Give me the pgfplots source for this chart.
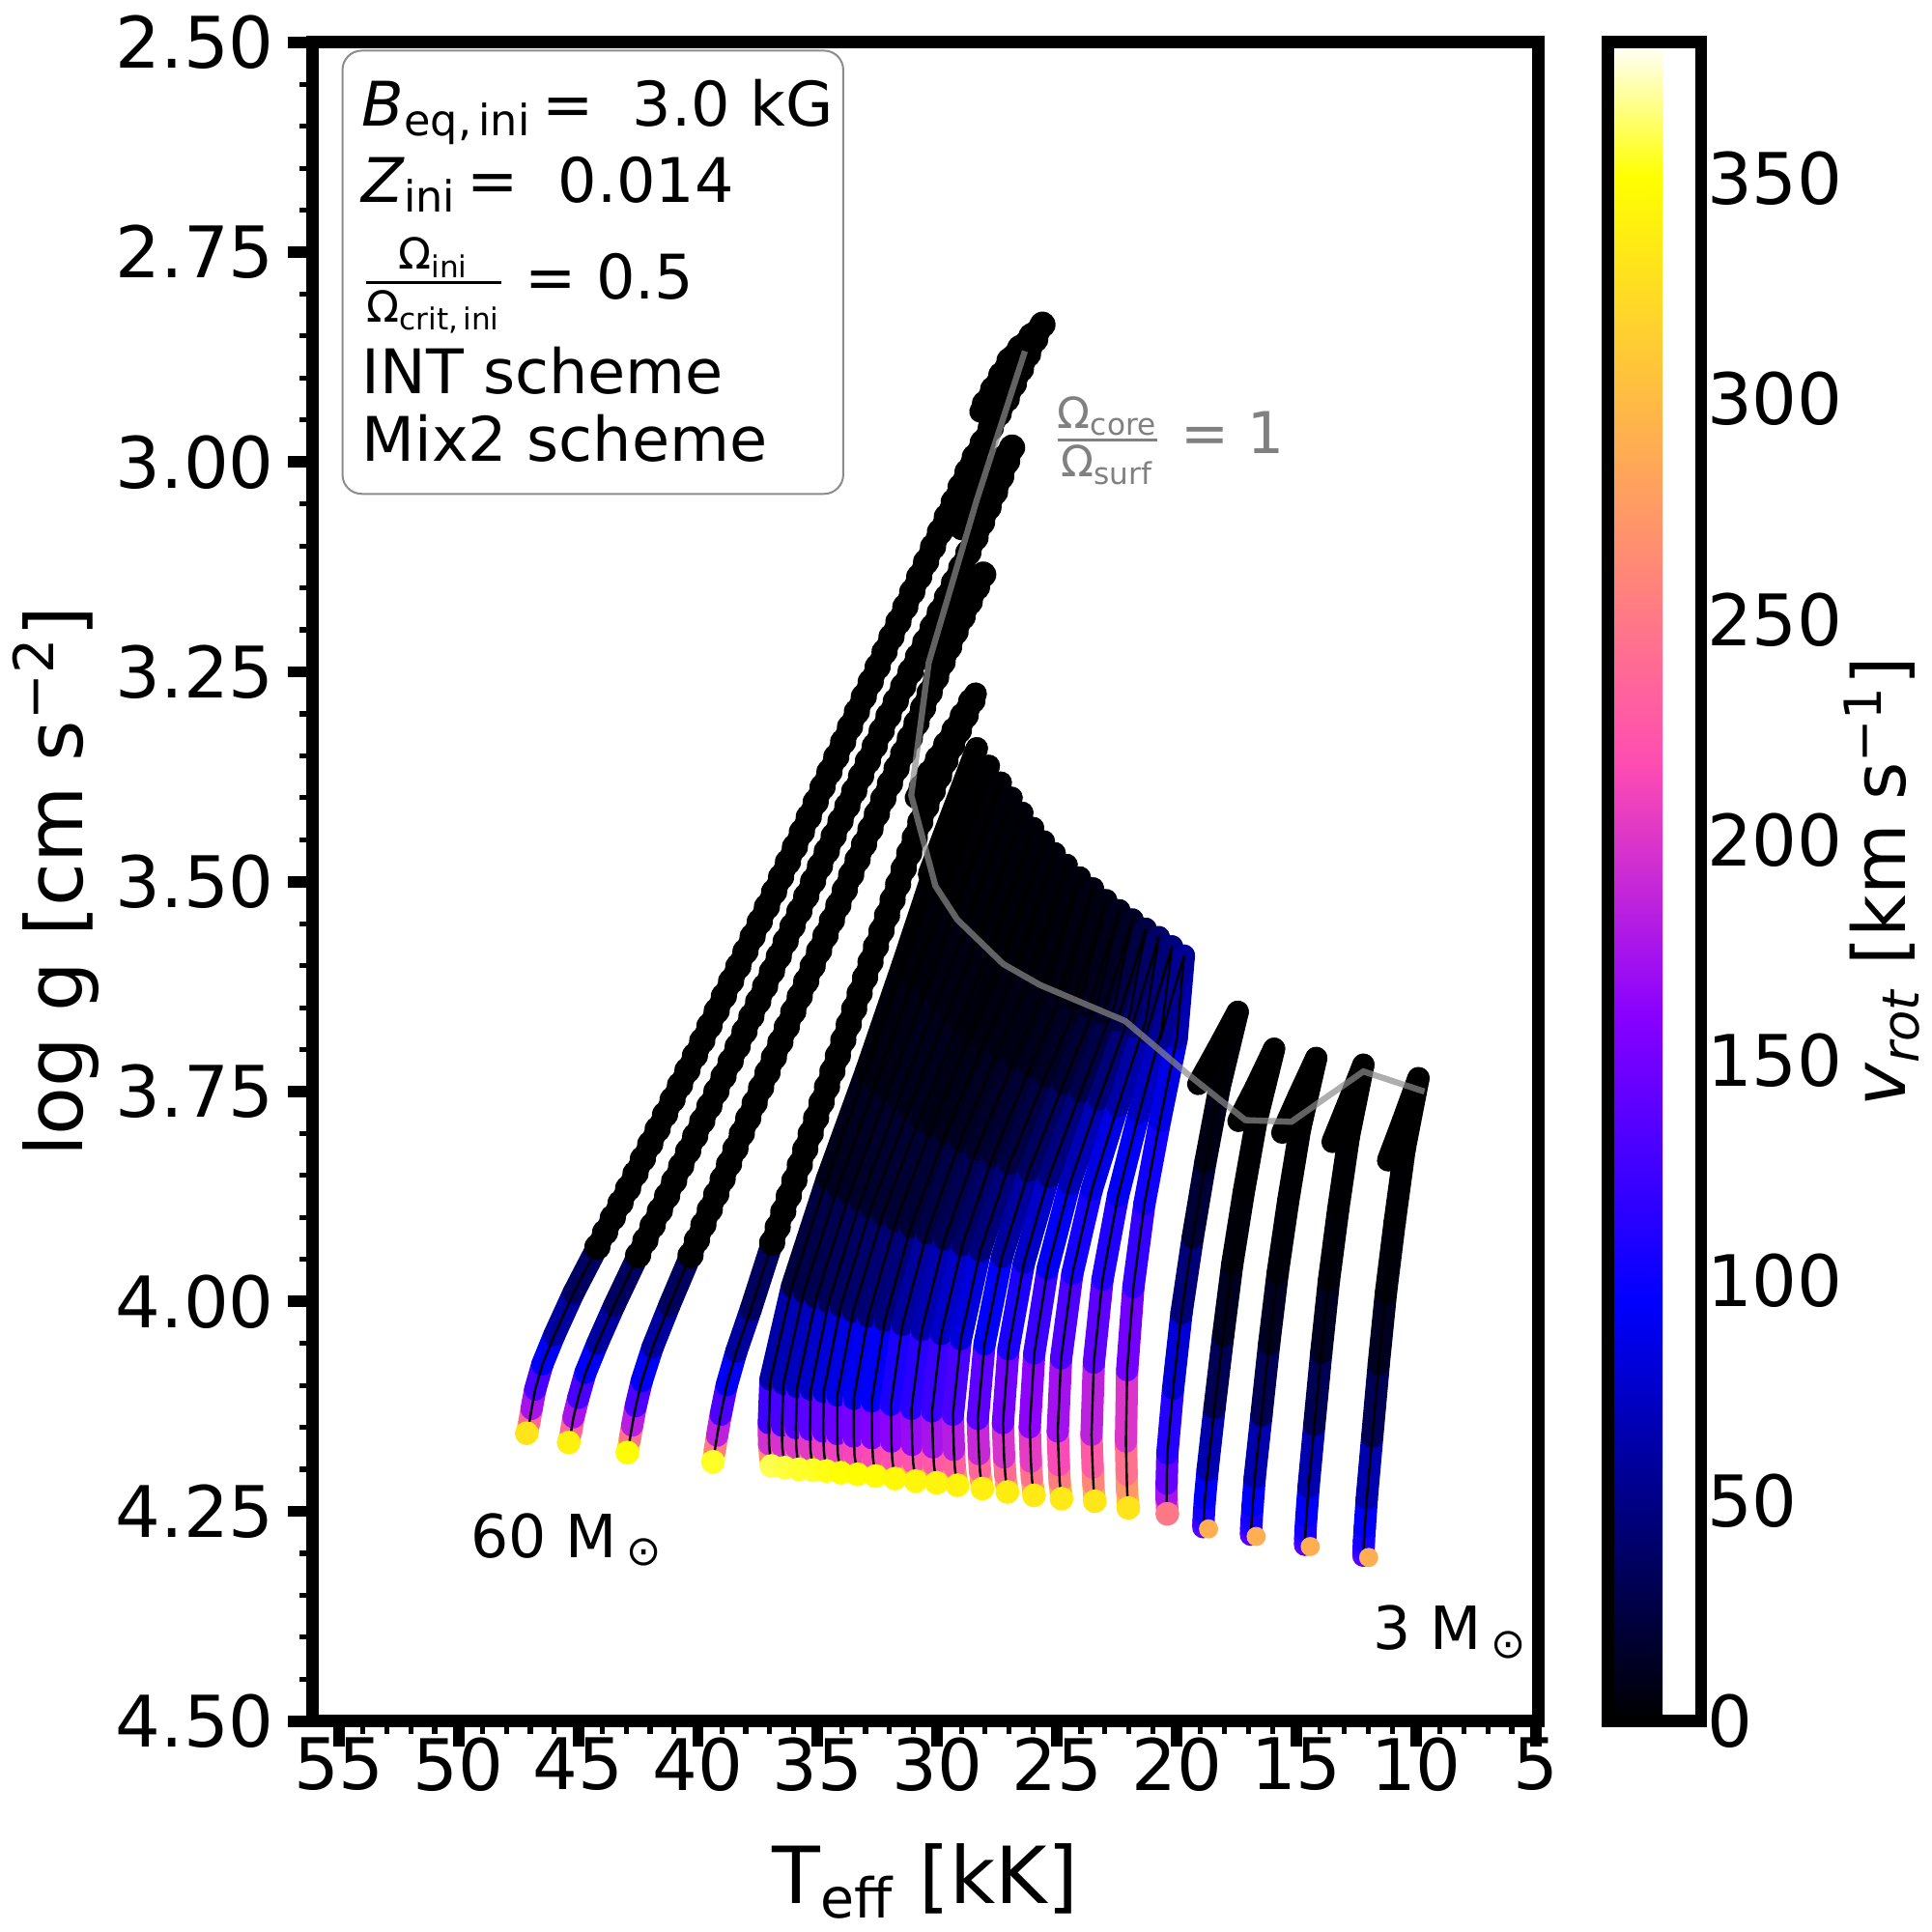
\documentclass[border=0pt]{standalone}
\usepackage{amsmath}
\usepackage{fontspec}
\setmainfont{DejaVu Sans}
\usepackage{pgfplots}
\usepackage{pgfplotstable}
\pgfplotsset{compat=1.18}
\definecolor{omg}{rgb}{0.55,0.55,0.55}
\pgfplotsset{colormap={gnuplottwo}{[1pt] rgb(0pt)=(0,0,0); rgb(25pt)=(0,0,1); rgb(42pt)=(0.53125,0,1); rgb(57pt)=(1,0.3,0.7); rgb(92pt)=(1,1,0); rgb(100pt)=(1,1,1)}}

\pgfplotstableread{
T g v
47.15 4.157 330
47.05 4.145 270
46.95 4.128 200
46.80 4.105 150
46.50 4.075 110
46.00 4.040 75
45.20 3.990 45
44.20 3.935 28
43.00 3.870 16
41.60 3.790 9
40.00 3.700 5
38.30 3.600 2
36.70 3.505 1
35.00 3.400 0
33.40 3.300 0
31.70 3.195 0
30.00 3.090 0
28.55 3.000 0
27.10 2.925 0
26.15 2.868 0
25.60 2.836 0
26.90 2.875 0
28.20 2.940 0
}\trkLX
\pgfplotstableread{
T g v
45.40 4.168 340
45.30 4.155 270
45.20 4.138 200
45.00 4.115 150
44.70 4.085 110
44.20 4.050 75
43.50 4.005 45
42.50 3.945 28
41.30 3.875 16
39.90 3.790 9
38.40 3.700 5
36.80 3.600 2
35.20 3.500 1
33.60 3.400 0
32.00 3.300 0
30.25 3.200 0
28.40 3.090 0
27.50 3.030 0
26.85 2.982 0
27.90 3.015 0
29.00 3.080 0
}\trkL
\pgfplotstableread{
T g v
42.95 4.180 350
42.85 4.165 280
42.75 4.148 210
42.60 4.125 155
42.35 4.095 110
41.90 4.055 75
41.20 4.005 45
40.31 3.945 27
39.20 3.870 15
38.02 3.790 8
36.69 3.700 4
35.20 3.600 2
33.72 3.500 0
32.24 3.400 0
30.70 3.300 0
29.20 3.200 0
28.50 3.158 0
28.05 3.133 0
28.90 3.163 0
30.30 3.235 0
}\trkXL
\pgfplotstableread{
T g v
39.37 4.191 355
39.30 4.178 290
39.20 4.160 215
39.05 4.135 155
38.80 4.100 110
38.40 4.060 75
37.80 4.010 45
36.90 3.930 27
35.90 3.850 15
34.80 3.760 8
33.70 3.670 4
32.60 3.580 2
31.60 3.500 0
30.60 3.420 0
29.50 3.345 0
28.40 3.276 0
29.70 3.340 0
30.90 3.400 0
}\trkXXX
\pgfplotstableread{
T g v
36.93 4.196 360
36.98 4.186 300
37.03 4.170 230
37.04 4.145 160
36.97 4.093 90
36.07 3.982 36
34.61 3.854 12
32.98 3.726 6
31.44 3.598 2
29.94 3.469 1
28.35 3.341 0
30.35 3.491 0
}\trkXXV
\pgfplotstableread{
T g v
36.37 4.198 358
36.42 4.188 300
36.48 4.173 232
36.49 4.148 164
36.43 4.098 95
35.58 3.989 40
34.16 3.864 15
32.54 3.738 8
30.95 3.613 4
29.40 3.487 2
27.85 3.362 1
29.79 3.509 1
}\trkXXIV
\pgfplotstableread{
T g v
35.78 4.200 356
35.83 4.190 300
35.89 4.175 234
35.91 4.151 168
35.86 4.102 100
35.06 3.996 43
33.68 3.873 17
32.07 3.750 10
30.45 3.627 6
28.85 3.505 3
27.35 3.382 2
29.23 3.526 2
}\trkXXIII
\pgfplotstableread{
T g v
35.19 4.201 355
35.24 4.191 300
35.30 4.177 236
35.32 4.153 171
35.29 4.105 105
34.54 4.001 47
33.22 3.881 20
31.63 3.760 12
29.99 3.640 8
28.35 3.520 5
26.90 3.400 3
28.72 3.541 3
}\trkXXII
\pgfplotstableread{
T g v
34.63 4.202 353
34.68 4.193 300
34.74 4.178 238
34.77 4.155 175
34.75 4.108 110
34.04 4.006 51
32.77 3.888 22
31.19 3.771 12
29.53 3.653 7
27.86 3.535 5
26.45 3.418 3
28.21 3.556 3
}\trkXXI
\pgfplotstableread{
T g v
34.04 4.204 351
34.09 4.195 300
34.16 4.181 240
34.18 4.158 179
34.18 4.112 115
33.52 4.012 55
32.29 3.897 25
30.74 3.782 13
29.06 3.666 8
27.36 3.551 5
26.00 3.436 3
27.71 3.571 3
}\trkXX
\pgfplotstableread{
T g v
33.34 4.206 349
33.39 4.197 300
33.46 4.183 242
33.49 4.161 183
33.49 4.116 120
32.89 4.018 58
31.73 3.904 28
30.22 3.791 10
28.55 3.678 6
26.84 3.565 4
25.55 3.452 3
27.20 3.584 3
}\trkXIX
\pgfplotstableread{
T g v
32.58 4.208 348
32.63 4.199 300
32.69 4.186 244
32.73 4.163 187
32.74 4.119 125
32.20 4.023 62
31.11 3.911 30
29.66 3.800 11
28.01 3.689 7
26.31 3.577 5
25.10 3.466 4
26.69 3.595 4
}\trkXVIII
\pgfplotstableread{
T g v
31.77 4.211 346
31.82 4.202 300
31.88 4.189 247
31.92 4.167 192
31.94 4.123 132
31.46 4.028 82
30.44 3.919 36
29.05 3.809 16
27.42 3.699 9
25.74 3.590 6
24.60 3.480 4
26.13 3.606 4
}\trkXVII
\pgfplotstableread{
T g v
30.90 4.214 344
30.95 4.205 300
31.01 4.192 250
31.05 4.171 196
31.08 4.128 140
30.65 4.034 90
29.70 3.926 42
28.37 3.819 20
26.77 3.711 10
25.12 3.603 6
24.05 3.495 5
25.52 3.619 5
}\trkXVI
\pgfplotstableread{
T g v
30.03 4.216 342
30.08 4.208 300
30.14 4.195 252
30.18 4.174 202
30.22 4.131 148
29.84 4.039 98
28.96 3.933 50
27.68 3.827 25
26.12 3.720 13
24.50 3.614 8
23.50 3.508 6
24.91 3.629 6
}\trkXV
\pgfplotstableread{
T g v
29.16 4.219 341
29.21 4.211 300
29.27 4.198 255
29.31 4.177 208
29.35 4.135 155
29.02 4.045 105
28.21 3.940 60
26.99 3.836 32
25.47 3.731 17
23.88 3.627 10
22.95 3.522 7
24.30 3.640 7
}\trkXIV
\pgfplotstableread{
T g v
28.12 4.223 339
28.16 4.215 300
28.22 4.202 258
28.26 4.182 215
28.31 4.140 165
28.03 4.051 115
27.30 3.947 75
26.17 3.844 45
24.74 3.741 25
23.24 3.637 14
22.40 3.534 10
23.69 3.649 10
}\trkXIII
\pgfplotstableread{
T g v
27.07 4.227 337
27.11 4.219 300
27.16 4.207 262
27.21 4.186 220
27.26 4.145 175
27.03 4.057 125
26.38 3.954 90
25.35 3.852 60
24.01 3.750 35
22.60 3.647 20
21.85 3.545 14
23.09 3.657 14
}\trkXII
\pgfplotstableread{
T g v
25.96 4.231 335
26.00 4.223 300
26.05 4.211 265
26.09 4.191 225
26.14 4.150 185
25.95 4.062 140
25.39 3.961 105
24.47 3.860 80
23.25 3.759 55
21.95 3.657 35
21.30 3.556 25
22.48 3.665 25
}\trkXI
\pgfplotstableread{
T g v
24.81 4.235 334
24.84 4.227 305
24.89 4.215 270
24.92 4.195 235
24.97 4.155 195
24.83 4.068 150
24.36 3.967 115
23.55 3.867 95
22.46 3.767 75
21.30 3.666 50
20.75 3.566 38
21.87 3.672 38
}\trkX
\pgfplotstableread{
T g v
23.42 4.238 332
23.45 4.230 305
23.48 4.218 275
23.51 4.198 245
23.56 4.159 210
23.46 4.073 160
23.10 3.974 120
22.45 3.874 100
21.57 3.775 85
20.63 3.676 60
20.20 3.577 45
21.26 3.680 45
}\trkIX
\pgfplotstableread{
T g v
22.02 4.246 330
22.04 4.238 310
22.07 4.226 285
22.09 4.206 260
22.12 4.167 230
22.07 4.082 170
21.81 3.983 130
21.35 3.884 110
20.70 3.785 95
20.00 3.687 75
19.70 3.588 55
20.70 3.688 55
}\trkVIII
\pgfplotstableread{
T g v
20.39 4.253 250
20.40 4.246 220
20.42 4.235 190
20.42 4.217 160
20.39 4.181 125
20.15 4.104 100
19.80 4.014 60
19.33 3.924 30
18.80 3.834 12
18.21 3.745 4
17.45 3.655 1
18.30 3.700 1
19.10 3.741 1
}\trkVII
\pgfplotstableread{
T g v
18.67 4.271 290
18.89 4.269 150
18.88 4.262 125
18.86 4.252 110
18.82 4.235 100
18.71 4.201 85
18.42 4.127 45
18.06 4.041 18
17.68 3.956 6
17.20 3.870 2
16.67 3.785 1
15.93 3.699 0
16.70 3.745 0
17.42 3.785 0
}\trkVI
\pgfplotstableread{
T g v
16.68 4.280 290
16.90 4.278 150
16.89 4.271 125
16.87 4.261 110
16.83 4.244 100
16.74 4.210 85
16.46 4.136 45
16.14 4.051 18
15.78 3.966 6
15.34 3.880 2
14.85 3.795 1
14.17 3.710 0
14.90 3.755 0
15.59 3.799 0
}\trkV
\pgfplotstableread{
T g v
14.42 4.292 290
14.64 4.290 150
14.63 4.283 125
14.62 4.273 110
14.58 4.256 100
14.49 4.221 85
14.25 4.147 45
13.96 4.061 18
13.64 3.975 6
13.25 3.890 2
12.81 3.804 1
12.20 3.718 0
12.85 3.765 0
13.49 3.810 0
}\trkIV
\pgfplotstableread{
T g v
11.98 4.305 290
12.20 4.303 150
12.19 4.296 125
12.18 4.286 110
12.14 4.269 100
12.06 4.235 85
11.83 4.161 45
11.56 4.075 18
11.26 3.990 6
10.89 3.905 2
10.48 3.819 1
9.90 3.734 0
10.55 3.785 0
11.17 3.832 0
}\trkIII
\pgfplotstableread{
T g
26.34 2.868
28.35 3.045
30.36 3.239
31.09 3.397
30.08 3.505
29.17 3.545
27.25 3.598
25.71 3.623
22.15 3.666
19.59 3.728
17.13 3.784
15.21 3.786
12.20 3.726
9.65 3.750
}\trkOmega

\newcommand{\track}[1]{%
  \addplot[mesh, point meta=explicit, line width=5.8pt, line cap=round, line join=round, forget plot] table[x=T,y=g,meta=v]{#1};
  \addplot[scatter, only marks, mark=*, mark size=2.9pt, point meta=explicit, each nth point=1000, scatter/use mapped color={draw=mapped color,fill=mapped color}, forget plot] table[x=T,y=g,meta=v]{#1};
}
\newcommand{\trackR}[1]{%
  \addplot[scatter, only marks, mark=*, mark size=2.3pt, point meta=explicit, each nth point=1000, scatter/use mapped color={draw=mapped color,fill=mapped color}, forget plot] table[x=T,y=g,meta=v]{#1};
  \addplot[mesh, point meta=explicit, line width=5.8pt, line cap=round, line join=round, skip coords between index={0}{1}, forget plot] table[x=T,y=g,meta=v]{#1};
}
\newcommand{\beads}[1]{%
  \addplot[black, line width=6.8pt, line cap=round, dash pattern=on 0pt off 4.3pt, restrict y to domain=2.5:3.97, no marks, forget plot] table[x=T,y=g]{#1};
}
\newcommand{\thin}[1]{%
  \addplot[black, line width=0.6pt, solid, no marks, forget plot] table[x=T,y=g]{#1};
}

\begin{document}
\begin{tikzpicture}
\begin{axis}[
  name=main, at={(0,0)}, anchor=south west,
  scale only axis, width=319pt, height=437pt,
  xmin=4.9, xmax=56.1, ymin=2.5, ymax=4.5,
  x dir=reverse, y dir=reverse,
  xtick={5,10,...,55}, ytick={2.5,2.75,...,4.5},
  minor x tick num=4, minor y tick num=4,
  tick align=outside, xtick pos=left, ytick pos=left,
  major tick length=6.5pt, minor tick length=3.3pt,
  major tick style={line width=3pt, black},
  minor tick style={line width=1.3pt, black},
  axis line style={line width=3.2pt},
  /pgf/number format/assume math mode=true,
  tick label style={font=\fontsize{18.5}{18.5}\selectfont},
  xticklabel style={yshift=5.8pt},
  yticklabel style={/pgf/number format/.cd, fixed, fixed zerofill, precision=2},
  label style={font=\fontsize{20.5}{20.5}\selectfont},
  xlabel={T\textsubscript{eff} [kK]},
  ylabel={log g [cm s\textsuperscript{−2}]},
  xlabel shift=6.7pt, ylabel shift=-2.5pt,
  point meta min=0, point meta max=381,
  colormap name=gnuplottwo,
  colorbar,
  colorbar style={
    at={(parent axis.north east)}, anchor=north west, xshift=9.6pt,
    scale only axis, width=24.3pt, height=437pt,
    ytick={0,50,...,350},
    major tick length=0pt,
    axis line style={line width=3.2pt},
    /pgf/number format/assume math mode=true,
    yticklabel style={font=\fontsize{18.5}{18.5}\selectfont, xshift=-2pt},
    ylabel={{\itshape v}\textsubscript{\itshape rot} [km s\textsuperscript{−1}]},
    ylabel style={font=\fontsize{19}{19}\selectfont},
    ylabel shift=-6.5pt,
  },
]
\track{\trkLX}\beads{\trkLX}
\track{\trkL}\beads{\trkL}
\track{\trkXL}\beads{\trkXL}
\track{\trkXXX}\beads{\trkXXX}
\track{\trkXXV}
\track{\trkXXIV}
\track{\trkXXIII}
\track{\trkXXII}
\track{\trkXXI}
\track{\trkXX}
\track{\trkXIX}
\track{\trkXVIII}
\track{\trkXVII}
\track{\trkXVI}
\track{\trkXV}
\track{\trkXIV}
\track{\trkXIII}
\track{\trkXII}
\track{\trkXI}
\track{\trkX}
\track{\trkIX}
\track{\trkVIII}
\track{\trkVII}
\trackR{\trkVI}
\trackR{\trkV}
\trackR{\trkIV}
\trackR{\trkIII}
\thin{\trkLX}\thin{\trkL}\thin{\trkXL}\thin{\trkXXX}
\thin{\trkXXV}\thin{\trkXXIV}\thin{\trkXXIII}\thin{\trkXXII}\thin{\trkXXI}
\thin{\trkXX}\thin{\trkXIX}\thin{\trkXVIII}\thin{\trkXVII}\thin{\trkXVI}
\thin{\trkXV}\thin{\trkXIV}\thin{\trkXIII}\thin{\trkXII}\thin{\trkXI}
\thin{\trkX}\thin{\trkIX}\thin{\trkVIII}\thin{\trkVII}\thin{\trkVI}
\thin{\trkV}\thin{\trkIV}\thin{\trkIII}
\addplot[omg, opacity=0.7, line width=1.6pt, no marks, forget plot] table[x=T,y=g]{\trkOmega};

\draw[draw=black!45, line width=0.5pt, rounded corners=5pt, fill=white] (axis cs:54.85,2.510) rectangle (axis cs:33.93,3.038);
\node[anchor=base west, inner sep=0pt, font=\fontsize{16}{16}\selectfont] at (axis cs:54.07,2.5996) {{\itshape B}\textsubscript{eq,\,ini}\,=\ \ 3.0 kG};
\node[anchor=base west, inner sep=0pt, font=\fontsize{16}{16}\selectfont] at (axis cs:54.07,2.6905) {{\itshape Z}\textsubscript{ini}\,=\ \ 0.014};
\node[anchor=west, inner sep=0pt, font=\fontsize{16}{16}\selectfont] at (axis cs:54.07,2.790) {$\genfrac{}{}{0.8pt}{}{\hbox{\fontsize{11.2}{11.2}\selectfont Ω\textsubscript{ini}}}{\hbox{\fontsize{11.2}{11.2}\selectfont Ω\textsubscript{crit,\,ini}}}$\ =\ 0.5};
\node[anchor=base west, inner sep=0pt, font=\fontsize{16}{16}\selectfont] at (axis cs:54.07,2.919) {INT scheme};
\node[anchor=base west, inner sep=0pt, font=\fontsize{16}{16}\selectfont] at (axis cs:54.07,2.9996) {Mix2 scheme};

\node[anchor=west, inner sep=0pt, text=black!50, font=\fontsize{15}{15}\selectfont] at (axis cs:25.2,2.975) {$\genfrac{}{}{0.8pt}{}{\hbox{\fontsize{11.2}{11.2}\selectfont Ω\textsubscript{core}}}{\hbox{\fontsize{11.2}{11.2}\selectfont Ω\textsubscript{surf}}}$\ =\ 1};

\node[anchor=base west, inner sep=0pt, font=\fontsize{15.5}{15.5}\selectfont] at (axis cs:49.52,4.305) {60 M\,\textsubscript{⊙}};
\node[anchor=base west, inner sep=0pt, font=\fontsize{15.5}{15.5}\selectfont] at (axis cs:11.82,4.415) {3 M\,\textsubscript{⊙}};
\end{axis}
\path (-79.4pt,-52pt) rectangle (420.6pt,448pt);
\end{tikzpicture}
\end{document}
